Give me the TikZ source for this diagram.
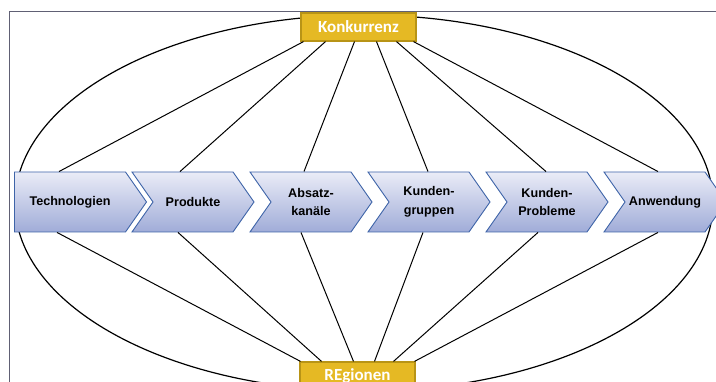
\documentclass[tikz,border=0pt]{standalone}
\usepackage{fontspec}
\setmainfont{Liberation Sans}
\newfontfamily\boxfont{Carlito}
\usetikzlibrary{positioning,shapes.symbols}

\definecolor{chevronline}{RGB}{62,100,168}
\definecolor{chevrontop}{RGB}{234,236,247}
\definecolor{chevronbottom}{RGB}{160,172,216}
\definecolor{boxfill}{RGB}{229,185,36}
\definecolor{boxline}{RGB}{184,148,22}
\definecolor{frameline}{RGB}{96,96,116}

\tikzset{
  chevron/.style={signal, signal to=east, signal from=west,
    signal pointer angle=110, minimum width=122, minimum height=60,
    inner sep=0pt, draw=chevronline, line width=0.9pt,
    top color=chevrontop, bottom color=chevronbottom, align=center,
    font=\bfseries\fontsize{12.6}{18.5}\selectfont},
  marketbox/.style={rectangle, minimum width=115, minimum height=28,
    inner sep=0pt, fill=boxfill, draw=boxline, line width=1.2pt,
    text=white, font=\boxfont\bfseries\fontsize{17}{17}\selectfont},
  link/.style={draw=black, line width=1pt}
}

\begin{document}
\begin{tikzpicture}[x=1pt, y=1pt, node distance = 118pt]
\useasboundingbox (0,0) rectangle (716,382);

% frame and ellipse
\draw[frameline, line width=1pt] (9,0) -- (9,370) -- (716,370);
\draw[black, line width=1.2pt] (364,179) ellipse [x radius=349, y radius=188];

% value chain
\node[chevron, signal from=nowhere, minimum width=132] (tech) at (70,180) {Technologien};
\node[chevron] (prod) [right of=tech, xshift=5pt] {Produkte};
\node[chevron] (absatz) [right of=prod] {Absatz-\\kanäle};
\node[chevron] (gruppen) [right of=absatz] {Kunden-\\gruppen};
\node[chevron] (probleme) [right of=gruppen] {Kunden-\\Probleme};
\node[chevron] (anw) [right of=probleme] {Anwendung};

\node[marketbox] (konk) at (358.5,355) {Konkurrenz};
\node[marketbox] (reg) at (357.5,6) {REgionen};

% links to Konkurrenz
\path[link] ([xshift=-11pt]tech.north) -- ([xshift=-55pt]konk.south);
\path[link] ([xshift=-13pt]prod.north) -- ([xshift=-33pt]konk.south);
\path[link] ([xshift=-7pt]absatz.north) -- ([xshift=-4pt]konk.south);
\path[link] ([xshift=-1pt]gruppen.north) -- ([xshift=18pt]konk.south);
\path[link] ([xshift=-1pt]probleme.north) -- ([xshift=38pt]konk.south);
\path[link] ([xshift=-7pt]anw.north) -- ([xshift=55pt]konk.south);

% links to REgionen
\path[link] ([xshift=-13pt]tech.south) -- ([xshift=-57pt]reg.north);
\path[link] ([xshift=-15pt]prod.south) -- ([xshift=-36pt]reg.north);
\path[link] ([xshift=-10pt]absatz.south) -- ([xshift=-4pt]reg.north);
\path[link] ([xshift=-6pt]gruppen.south) -- ([xshift=17pt]reg.north);
\path[link] ([xshift=-9pt]probleme.south) -- ([xshift=36pt]reg.north);
\path[link] ([xshift=-7pt]anw.south) -- ([xshift=57pt]reg.north);
\end{tikzpicture}
\end{document}
